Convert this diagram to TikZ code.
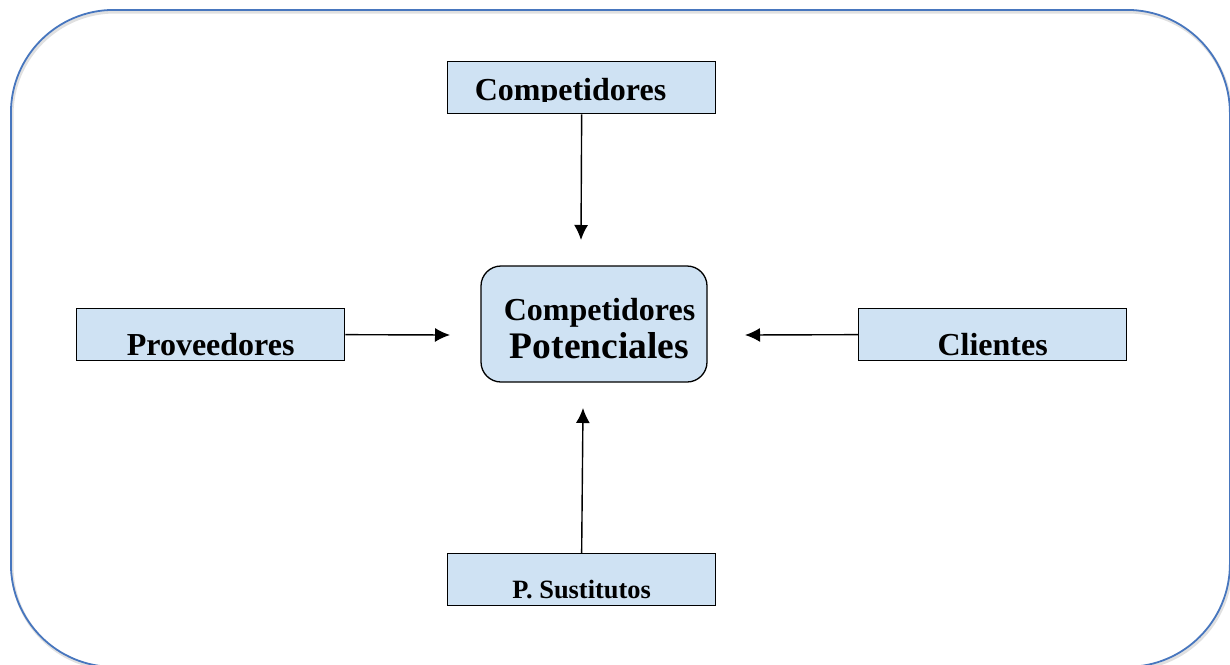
\documentclass[tikz,border=0pt]{standalone}
\usepackage{fontspec}
\setmainfont{Liberation Serif}
\usetikzlibrary{arrows.meta}
\definecolor{boxfill}{RGB}{207,226,243}
\definecolor{frameblue}{RGB}{71,118,190}
\tikzset{
  sidebox/.style={draw=black, line width=1.3pt, fill=boxfill, inner sep=0pt, minimum width=268pt, font=\bfseries\fontsize{32}{36}\selectfont},
  arr/.style={line width=1.4pt, -{Latex[length=15pt,width=14pt]}}
}
\begin{document}
\begin{tikzpicture}[x=1pt,y=-1pt]
\useasboundingbox (0,0) rectangle (1230,664);
\begin{scope}
\clip (0,0) rectangle (1230,664);
% shadow
\draw[line width=3pt, black!12, rounded corners=103pt] (12,12) rectangle (1231,669);
\node[draw=frameblue, line width=1.8pt, rounded corners=103pt, minimum width=1219pt, minimum height=657pt, anchor=north west, inner sep=0pt] (frame) at (10,9) {};
\end{scope}

% top box
\node[sidebox, minimum height=52pt, anchor=north west] (comp) at (447,61) {};
\begin{scope}
\clip (447,61) rectangle (715,101);
\node[font=\bfseries\fontsize{32}{36}\selectfont, anchor=base, inner sep=0pt] (comptext) at (570.5,100) {Competidores};
\end{scope}

% center box
\node[draw=black, line width=1.3pt, fill=boxfill, rounded corners=20pt, minimum width=226pt, minimum height=116pt, inner sep=0pt] (cp) at (594,324) {};
\node[font=\bfseries\fontsize{32}{36}\selectfont, anchor=base, inner sep=0pt] (cpt1) at (599.5,320) {Competidores};
\node[font=\bfseries\fontsize{37.5}{40}\selectfont, anchor=base, inner sep=0pt] (cpt2) at (599.5,358) {Potenciales};

% side boxes
\node[sidebox, text height=47pt, text depth=5pt, anchor=north west] (prov) at (76,308) {Proveedores};
\node[sidebox, text height=47pt, text depth=5pt, anchor=north west] (cli) at (858,308) {Clientes};
\node[sidebox, font=\bfseries\fontsize{26.4}{30}\selectfont, text height=45pt, text depth=7pt, anchor=north west] (sust) at (447,553) {P. Sustitutos};

% arrow ends
\coordinate (a1) at (581,240);
\coordinate (a2) at (450,335);
\coordinate (a3) at (745,335);
\coordinate (a4) at (583,408);

\draw[arr] (comp.south) -- (a1);
\draw[arr] (prov.east) -- (a2);
\draw[arr] (cli.west) -- (a3);
\draw[arr] (sust.north) -- (a4);
\end{tikzpicture}
\end{document}
